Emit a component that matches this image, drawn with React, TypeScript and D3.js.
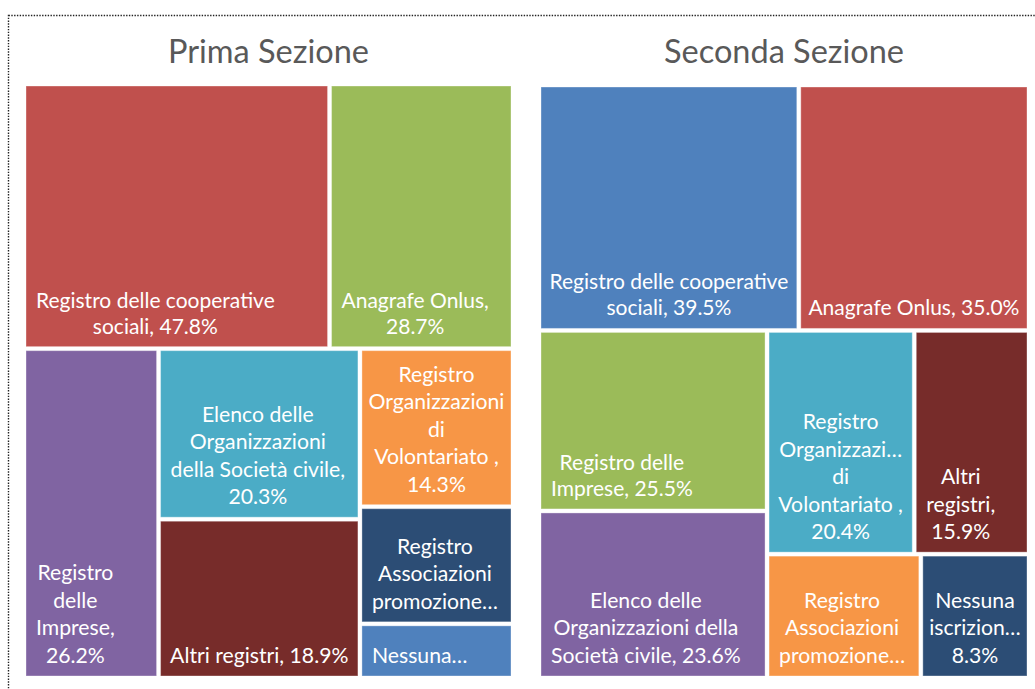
import React, { useEffect, useRef } from "react";
import * as d3 from "d3";

// ---------- DATA ----------
const leftTitle = "Prima Sezione";
const leftCategories = [
  "Registro delle cooperative sociali",
  "Anagrafe Onlus",
  "Registro delle Imprese",
  "Elenco delle Organizzazioni della Società civile",
  "Altri registri",
  "Registro Organizzazioni di Volontariato ",
  "Registro Associazioni promozione sociale",
  "Nessuna iscrizione",
];
const leftValues = [47.8, 28.7, 26.2, 20.3, 18.9, 14.3, 10.6, 4.9];
// Displayed (wrapped / truncated) label lines; {v} = formatted value
const leftLabels = [
  ["Registro delle cooperative", "sociali, {v}"],
  ["Anagrafe Onlus,", "{v}"],
  ["Registro", "delle", "Imprese,", "{v}"],
  ["Elenco delle", "Organizzazioni", "della Società civile,", "{v}"],
  ["Altri registri, {v}"],
  ["Registro", "Organizzazioni", "di", "Volontariato ,", "{v}"],
  ["Registro", "Associazioni", "promozione…"],
  ["Nessuna…"],
];
// grouping of tiles (indices into the arrays)
const leftGroups = [[0, 1], [[2], [3, 4], [5, 6, 7]]];

const rightTitle = "Seconda Sezione";
const rightCategories = [
  "Registro delle cooperative sociali",
  "Anagrafe Onlus",
  "Registro delle Imprese",
  "Elenco delle Organizzazioni della Società civile",
  "Registro Organizzazioni di Volontariato ",
  "Altri registri",
  "Registro Associazioni promozione sociale",
  "Nessuna iscrizione",
];
const rightValues = [39.5, 35.0, 25.5, 23.6, 20.4, 15.9, 11.8, 8.3];
const rightLabels = [
  ["Registro delle cooperative", "sociali, {v}"],
  ["Anagrafe Onlus, {v}"],
  ["Registro delle", "Imprese, {v}"],
  ["Elenco delle", "Organizzazioni della", "Società civile, {v}"],
  ["Registro", "Organizzazi…", "di", "Volontariato ,", "{v}"],
  ["Altri", "registri,", "{v}"],
  ["Registro", "Associazioni", "promozione…"],
  ["Nessuna", "iscrizion…", "{v}"],
];
const rightGroups = [[0, 1], [[2, 3], [[4, 5], [6, 7]]]];

// ---------- STYLE ----------
const C = {
  blue: "#4F81BD",
  red: "#C0504D",
  green: "#9BBB59",
  purple: "#8064A2",
  aqua: "#4BACC6",
  orange: "#F79646",
  darkRed: "#772C2A",
  navy: "#2C4D75",
};
const leftColors = [C.red, C.green, C.purple, C.aqua, C.darkRed, C.orange, C.navy, C.blue];
const rightColors = [C.blue, C.red, C.green, C.purple, C.aqua, C.darkRed, C.orange, C.navy];
const leftSmall = [true, true, false, false, false, false, false, false];
const rightSmall = [true, true, true, false, false, false, false, false];

const W = 1035;
const H = 689;
const FONT = "Lato, 'Open Sans', sans-serif";
const SMALL = { size: 21, lh: 26 };
const LARGE = { size: 21.2, lh: 27.5 };

const fmt = (v: number) => d3.format(".1f")(v) + "%";

type Leaf = { idx: number; name: string; value: number; color: string; lines: string[]; small: boolean };

function buildTree(group: any, cats: string[], vals: number[], cols: string[], labels: string[][], small: boolean[]): any {
  if (typeof group === "number") {
    return {
      idx: group,
      name: cats[group],
      value: vals[group],
      color: cols[group],
      lines: labels[group].map((l) => l.replace("{v}", fmt(vals[group]))),
      small: small[group],
    } as Leaf;
  }
  return { children: group.map((g: any) => buildTree(g, cats, vals, cols, labels, small)) };
}

// split along the longer side of each rectangle
const tile = (node: any, x0: number, y0: number, x1: number, y1: number) => {
  if (x1 - x0 > y1 - y0) d3.treemapDice(node, x0, y0, x1, y1);
  else d3.treemapSlice(node, x0, y0, x1, y1);
};

function drawTreemap(
  svg: d3.Selection<SVGSVGElement, unknown, null, undefined>,
  title: string,
  tree: any,
  box: { x: number; y: number; w: number; h: number }
) {
  const root = d3
    .hierarchy(tree)
    .sum((d: any) => (d.children ? 0 : d.value));
  d3.treemap().size([box.w, box.h]).paddingInner(4).tile(tile as any)(root as any);

  const g = svg.append("g").attr("transform", `translate(${box.x},${box.y})`);

  svg
    .append("text")
    .attr("x", box.x + box.w / 2)
    .attr("y", 63)
    .attr("text-anchor", "middle")
    .attr("font-family", FONT)
    .attr("font-size", 32.5)
    .attr("fill", "#595959")
    .text(title);

  const leaves = root.leaves() as any[];
  const cell = g
    .selectAll("g.cell")
    .data(leaves)
    .join("g")
    .attr("class", "cell")
    .attr("transform", (d) => `translate(${d.x0},${d.y0})`);

  cell
    .append("rect")
    .attr("width", (d) => d.x1 - d.x0)
    .attr("height", (d) => d.y1 - d.y0)
    .attr("fill", (d) => d.data.color)
    .attr("stroke", "rgba(255,255,255,0.35)")
    .attr("stroke-width", 1);

  cell.each(function (d: any) {
    const sel = d3.select(this);
    const st = d.data.small ? SMALL : LARGE;
    const lines: string[] = d.data.lines;
    const n = lines.length;
    const cw = d.x1 - d.x0;
    const ch = d.y1 - d.y0;
    const padL = 10;
    const padB = 13;
    const texts = lines.map((ln, i) =>
      sel
        .append("text")
        .attr("font-family", FONT)
        .attr("font-size", st.size)
        .attr("fill", "#ffffff")
        .attr("y", ch - padB - (n - 1 - i) * st.lh)
        .text(ln)
    );
    const widths = texts.map((t) => (t.node() as SVGTextElement).getComputedTextLength());
    const maxW = d3.max(widths) || 0;
    let cx = padL + maxW / 2;
    if (maxW > cw - 2 * padL) cx = cw / 2;
    texts.forEach((t) => t.attr("x", cx).attr("text-anchor", "middle"));
  });
}

export default function App() {
  const ref = useRef<SVGSVGElement>(null);
  useEffect(() => {
    const svg = d3.select(ref.current!);
    svg.selectAll("*").remove();

    svg
      .append("rect")
      .attr("x", 8.5)
      .attr("y", 15.5)
      .attr("width", W + 100)
      .attr("height", H + 100)
      .attr("fill", "none")
      .attr("stroke", "#222")
      .attr("stroke-width", 1.4)
      .attr("stroke-dasharray", "1.4,1.4");

    const leftTree = buildTree(leftGroups, leftCategories, leftValues, leftColors, leftLabels, leftSmall);
    const rightTree = buildTree(rightGroups, rightCategories, rightValues, rightColors, rightLabels, rightSmall);

    drawTreemap(svg, leftTitle, leftTree, { x: 26, y: 86, w: 485, h: 590 });
    drawTreemap(svg, rightTitle, rightTree, { x: 541, y: 87, w: 486, h: 589 });
  }, []);

  return (
    <svg
      ref={ref}
      width={W}
      height={H}
      style={{ position: "absolute", left: 0, top: 0, background: "#fff" }}
    />
  );
}
